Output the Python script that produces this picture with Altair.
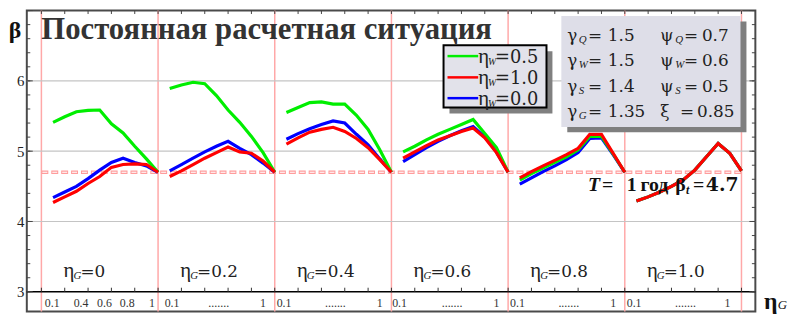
import altair as alt
import pandas as pd

SERIF = "DejaVu Serif"
TIMES = "Liberation Serif"

# ---------------- data ----------------
eta = [0.1, 0.2, 0.3, 0.4, 0.5, 0.6, 0.7, 0.8, 0.9, 1.0]
eta_g_labels = ["0", "0.2", "0.4", "0.6", "0.8", "1.0"]
series_names = ["0.5", "1.0", "0.0"]

beta_w05 = [
    [5.41, 5.49, 5.56, 5.58, 5.585, 5.39, 5.26, 5.07, 4.89, 4.70],
    [5.89, 5.94, 5.98, 5.96, 5.79, 5.585, 5.41, 5.21, 4.98, 4.70],
    [5.55, 5.62, 5.69, 5.70, 5.67, 5.67, 5.51, 5.31, 5.02, 4.70],
    [4.99, 5.07, 5.16, 5.24, 5.31, 5.38, 5.45, 5.25, 5.05, 4.70],
    [4.59, 4.68, 4.76, 4.84, 4.92, 5.02, 5.21, 5.21, 4.96, 4.70],
    [4.29, 4.35, 4.42, 4.50, 4.59, 4.73, 4.92, 5.11, 4.97, 4.72],
]
beta_w10 = [
    [4.27, 4.35, 4.43, 4.54, 4.64, 4.77, 4.81, 4.82, 4.81, 4.70],
    [4.64, 4.72, 4.81, 4.90, 4.98, 5.06, 4.99, 4.97, 4.86, 4.70],
    [5.10, 5.19, 5.27, 5.31, 5.34, 5.28, 5.18, 5.05, 4.88, 4.70],
    [4.90, 4.99, 5.08, 5.16, 5.22, 5.28, 5.33, 5.19, 4.98, 4.70],
    [4.62, 4.71, 4.79, 4.87, 4.95, 5.04, 5.24, 5.24, 4.97, 4.70],
    [4.29, 4.35, 4.42, 4.50, 4.59, 4.73, 4.92, 5.11, 4.97, 4.72],
]
beta_w00 = [
    [4.34, 4.42, 4.50, 4.61, 4.73, 4.84, 4.90, 4.84, 4.79, 4.70],
    [4.72, 4.81, 4.90, 4.99, 5.07, 5.14, 5.04, 4.95, 4.83, 4.70],
    [5.17, 5.25, 5.32, 5.38, 5.43, 5.40, 5.24, 5.09, 4.89, 4.70],
    [4.85, 4.95, 5.05, 5.14, 5.22, 5.29, 5.35, 5.20, 4.99, 4.70],
    [4.53, 4.62, 4.71, 4.79, 4.88, 4.98, 5.18, 5.19, 4.95, 4.70],
    [4.29, 4.35, 4.42, 4.50, 4.59, 4.73, 4.92, 5.11, 4.97, 4.72],
]
beta_target = 4.7

y_label_values = [3, 4, 5, 6]
grid_y = [4, 5, 6]
panel_bounds = [0, 1, 2, 3, 4, 5, 6]
x_minor = [0.0, 0.2, 0.4, 0.6, 0.8, 1.0, 1.2, 1.4, 1.6, 1.8, 2.0, 2.2, 2.4, 2.6, 2.8,
           3.0, 3.2, 3.4, 3.6, 3.8, 4.0, 4.2, 4.4, 4.6, 4.8, 5.0, 5.2, 5.4, 5.6, 5.8, 6.0]
y_minor = [3.0, 3.2, 3.4, 3.6, 3.8, 4.0, 4.2, 4.4, 4.6, 4.8, 5.0, 5.2, 5.4, 5.6, 5.8,
           6.0, 6.2, 6.4, 6.6, 6.8, 7.0]
y_major = [3, 4, 5, 6, 7]

x_tick_text = ["0.1", "0.4", "0.6", "0.8", "1",
               "0.1", ".......", "1",
               "0.1", ".......", "1",
               "0.1", ".......", "1",
               "0.1", ".......", "1",
               "0.1", ".......", "1"]
x_tick_pos = [0.093, 0.34, 0.54, 0.735, 0.947,
              1.12, 1.52, 1.90,
              2.08, 2.52, 2.90,
              3.07, 3.52, 3.90,
              4.08, 4.52, 4.90,
              5.08, 5.52, 5.88]

params_left = [("γ", "Q", "1.5"), ("γ", "W", "1.5"), ("γ", "S", "1.4"), ("γ", "G", "1.35")]
params_right = [("ψ", "Q", "0.7"), ("ψ", "W", "0.6"), ("ψ", "S", "0.5"), ("ξ", "", "0.85")]

# ---------------- tables ----------------
rows = []
for name, arr in zip(series_names, [beta_w05, beta_w10, beta_w00]):
    for i, vals in enumerate(arr):
        for e, b in zip(eta, vals):
            rows.append({"series": name, "panel": i, "eta": e, "beta": b})
df_lines = pd.DataFrame(rows)

dummy = pd.DataFrame({"k": [0]})

xs = alt.Scale(domain=[-0.125, 6.119], nice=False, zero=False)
ys = alt.Scale(domain=[2.72, 7.0], nice=False, zero=False)
yax = alt.Axis(values=y_label_values, domain=False, ticks=False, grid=False,
               labelFont=TIMES, labelFontSize=15, labelColor="#222222",
               labelPadding=3, title=None)


def X(f):
    return alt.X(f, scale=xs, axis=None)


def Y(f):
    return alt.Y(f, scale=ys, axis=yax)


def txt(s, x, y, size, weight="normal", style="normal", align="left",
        color="#222222", font=SERIF):
    return alt.Chart(dummy).mark_text(
        text=s, font=font, fontSize=size, fontWeight=weight, fontStyle=style,
        align=align, baseline="alphabetic", color=color
    ).encode(x=alt.value(x), y=alt.value(y))


def box(x1, y1, x2, y2, fill, stroke=None, sw=0):
    kw = dict(fill=fill)
    if stroke:
        kw.update(stroke=stroke, strokeWidth=sw)
    else:
        kw.update(strokeWidth=0)
    return alt.Chart(dummy).mark_rect(**kw).encode(
        x=alt.value(x1), x2=alt.value(x2), y=alt.value(y1), y2=alt.value(y2))


layers = []

# panel boundaries (pink verticals)
layers.append(alt.Chart(pd.DataFrame({"b": panel_bounds})).mark_rule(
    color="#ffa8a8", strokeWidth=1.5).encode(x=X("b:Q")))
# horizontal grid
layers.append(alt.Chart(pd.DataFrame({"g": grid_y})).mark_rule(
    color="#c4c4c4", strokeWidth=1.2).encode(y=Y("g:Q")))
# target reliability dashed line
df_t = pd.DataFrame({"x0": [0], "x1": [6], "bt": [beta_target]})
layers.append(alt.Chart(df_t).mark_rule(color="#ff9c9c", strokeWidth=3.5, strokeDash=[7, 3]).encode(
    x=X("x0:Q"), x2="x1:Q", y=Y("bt:Q")))
layers.append(alt.Chart(df_t).mark_rule(color="white", strokeWidth=1.2, strokeDash=[5, 5],
                                        strokeDashOffset=9).encode(
    x=X("x0:Q"), x2="x1:Q", y=Y("bt:Q")))
# x axis line at beta = 3
layers.append(alt.Chart(pd.DataFrame({"a": [3]})).mark_rule(color="black", strokeWidth=1.5).encode(
    y=Y("a:Q")))
# ticks
df_xt = pd.DataFrame({"t": x_minor, "base": [3] * len(x_minor)})
layers.append(alt.Chart(df_xt).mark_rule(color="#333333", strokeWidth=1).encode(
    x=X("t:Q"), y=Y("base:Q"), y2=alt.value(280)))
layers.append(alt.Chart(df_xt).mark_rule(color="#444444", strokeWidth=1).encode(
    x=X("t:Q"), y=alt.value(0), y2=alt.value(3.5)))
df_yt = pd.DataFrame({"t": y_minor})
df_ym = pd.DataFrame({"t": y_major})
layers.append(alt.Chart(df_yt).mark_rule(color="#444444", strokeWidth=1).encode(
    y=Y("t:Q"), x=alt.value(0), x2=alt.value(3.5)))
layers.append(alt.Chart(df_yt).mark_rule(color="#444444", strokeWidth=1).encode(
    y=Y("t:Q"), x=alt.value(736), x2=alt.value(732.5)))
layers.append(alt.Chart(df_ym).mark_rule(color="#444444", strokeWidth=1).encode(
    y=Y("t:Q"), x=alt.value(0), x2=alt.value(6)))
layers.append(alt.Chart(df_ym).mark_rule(color="#444444", strokeWidth=1).encode(
    y=Y("t:Q"), x=alt.value(736), x2=alt.value(730)))

# curves
colors = {"0.0": "#0000ff", "0.5": "#00ee00", "1.0": "#ff0000"}
for name in ["0.0", "0.5", "1.0"]:
    layers.append(
        alt.Chart(df_lines).transform_filter(alt.datum.series == name)
        .transform_calculate(pos="datum.panel + datum.eta")
        .mark_line(color=colors[name], strokeWidth=3.2)
        .encode(x=X("pos:Q"), y=Y("beta:Q"), detail="panel:N", order="eta:Q")
    )

# x tick labels
df_xl = pd.DataFrame({"pos": x_tick_pos, "lab": x_tick_text})
layers.append(alt.Chart(df_xl).mark_text(font=TIMES, fontSize=12, color="#333333",
                                         align="center", baseline="alphabetic").encode(
    x=X("pos:Q"), y=alt.value(299.5), text="lab:N"))

# panel labels eta_G = ...
df_pl = pd.DataFrame({"pos": [i + 0.19 for i in range(6)],
                      "val": ["=" + g for g in eta_g_labels]})
layers.append(alt.Chart(df_pl).mark_text(text="η", font=TIMES, fontSize=21, color="#222222",
                                         align="left", baseline="alphabetic").encode(
    x=X("pos:Q"), y=alt.value(269)))
layers.append(alt.Chart(df_pl).mark_text(text="G", font=TIMES, fontSize=11, fontStyle="italic",
                                         color="#222222", align="left", baseline="alphabetic",
                                         dx=10).encode(x=X("pos:Q"), y=alt.value(271)))
layers.append(alt.Chart(df_pl).mark_text(font=SERIF, fontSize=17, color="#222222",
                                         align="left", baseline="alphabetic", dx=17).encode(
    x=X("pos:Q"), y=alt.value(269), text="val:N"))

# legend box
layers.append(box(427, 41, 531, 104, "#808080"))
layers.append(box(421, 35, 525, 98, "#e2e2ea", "black", 2))
leg_y = [46, 67.5, 88.5]
leg_base = [52.5, 74, 95]
for name, ly, lb in zip(series_names, leg_y, leg_base):
    layers.append(alt.Chart(dummy).mark_rule(color=colors[name], strokeWidth=2.5).encode(
        x=alt.value(425), x2=alt.value(456), y=alt.value(ly)))
    layers.append(txt("η", 456, lb, 21, font=TIMES))
    layers.append(txt("W", 466, lb + 2, 10, style="italic", font=TIMES))
    layers.append(txt("=" + name, 473, lb, 18))

# parameter box
layers.append(box(546, 11, 727, 123, "#7f7f7f"))
layers.append(box(540, 5.5, 721, 117.7, "#dedee8"))
row_base = [30.5, 56, 82, 107.5]
for (g, s, v), (g2, s2, v2), rb in zip(params_left, params_right, row_base):
    layers.append(txt(g, 546, rb, 17))
    layers.append(txt(s, 557.5, rb + 2, 11, style="italic", font=TIMES))
    layers.append(txt("=", 567, rb, 17))
    layers.append(txt(v, 587, rb, 17))
    layers.append(txt(g2, 640, rb, 17))
    if s2:
        layers.append(txt(s2, 655, rb + 2, 11, style="italic", font=TIMES))
        layers.append(txt("=", 664, rb, 17))
        layers.append(txt(v2, 682, rb, 17))
    else:
        layers.append(txt("=", 660, rb, 17))
        layers.append(txt(v2, 677, rb, 17))

# target annotation: T = 1 год beta_t = 4.7
tb = 182.7
ink = "#111111"
layers.append(txt("T", 567, tb, 20, weight="bold", style="italic", color=ink, font=TIMES))
layers.append(txt("=", 581, tb, 20, weight="bold", color=ink, font=TIMES))
layers.append(txt("1", 606, tb, 20, weight="bold", color=ink, font=TIMES))
layers.append(txt("год", 620, tb, 20, weight="bold", color=ink, font=TIMES))
layers.append(txt("β", 655, tb, 20, weight="bold", color=ink, font=TIMES))
layers.append(txt("t", 666, tb + 3, 12, weight="bold", style="italic", color=ink, font=TIMES))
layers.append(txt("=", 673, tb, 20, weight="bold", color=ink, font=TIMES))
layers.append(txt("4.7", 686, tb, 19, weight="bold", color=ink))

# title, beta axis title, eta_G axis title
layers.append(txt("Постоянная расчетная ситуация", 14.7, 28.5, 31, weight="bold",
                  color="#333333", font=TIMES))
layers.append(txt("β", -12, 28, 24, weight="bold", align="center", color=ink, font=TIMES))
layers.append(txt("η", 744.7, 301, 24, weight="bold", color=ink, font=TIMES))
layers.append(txt("G", 758.5, 301.7, 13, style="italic", color=ink, font=TIMES))

chart = alt.layer(*layers).properties(
    width=736, height=304,
    padding={"left": 19, "top": 1, "right": 35, "bottom": 4},
    autosize=alt.AutoSizeParams(type="none"),
    background="white",
).configure_view(stroke="#4a4a4a", strokeWidth=2, fill="white")

chart.save("out.html", embed_options={"renderer": "svg", "actions": False})
